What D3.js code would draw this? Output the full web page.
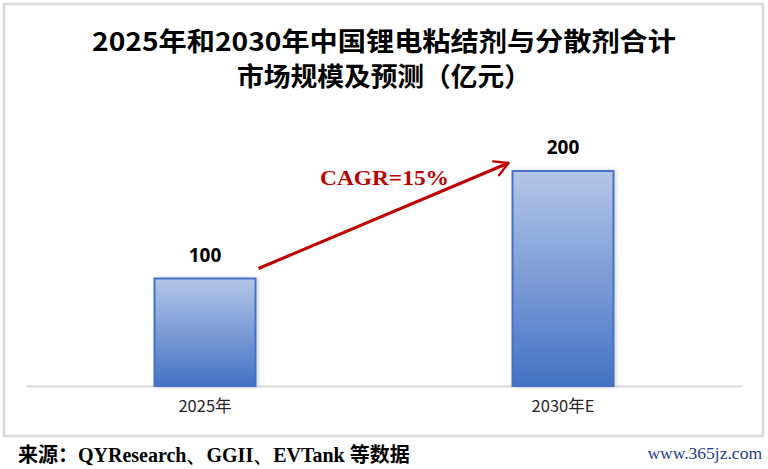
<!DOCTYPE html>
<html><head><meta charset="utf-8">
<script src="https://cdn.jsdelivr.net/npm/d3@7"></script>
<style>
html,body{margin:0;padding:0;background:#fff;}
svg{display:block;}
</style>
</head><body>
<svg id="c" width="768" height="469"></svg>
<script>
const categories = ["2025年", "2030年E"];
const values = [100, 200];
const titleLines = ["2025年和2030年中国锂电粘结剂与分散剂合计", "市场规模及预测（亿元）"];
const cagrLabel = "CAGR=15%";
const sourceParts = ["来源：", "QYResearch、GGII、EVTank ", "等数据"];
const watermark = "www.365jz.com";

const svg = d3.select("#c");
const W = 768, H = 469;
svg.append("rect").attr("width", W).attr("height", H).attr("fill", "#fff");

// frame
svg.append("rect").attr("x", 4).attr("y", 4).attr("width", 759).attr("height", 432)
  .attr("fill", "#fff").attr("stroke", "#d9d9d9").attr("stroke-width", 2.5);

const defs = svg.append("defs");
const grad = defs.append("linearGradient").attr("id", "g").attr("x1", 0).attr("y1", 0).attr("x2", 0).attr("y2", 1);
grad.append("stop").attr("offset", "0%").attr("stop-color", "#b4c6e8");
grad.append("stop").attr("offset", "100%").attr("stop-color", "#4472c4");
const f = defs.append("filter").attr("id", "sh").attr("x", "-20%").attr("y", "-20%").attr("width", "140%").attr("height", "140%");
f.append("feDropShadow").attr("dx", 2).attr("dy", 0).attr("stdDeviation", 2).attr("flood-color", "#8090b0").attr("flood-opacity", 0.35);
defs.append("marker").attr("id", "arr").attr("viewBox", "0 0 12 12").attr("refX", 10).attr("refY", 6)
  .attr("markerWidth", 6).attr("markerHeight", 6).attr("markerUnits", "strokeWidth").attr("orient", "auto")
  .append("path").attr("d", "M1,1 L10,6 L1,11").attr("fill", "none").attr("stroke", "#c00000").attr("stroke-width", 1.6)
  .attr("stroke-linecap", "round").attr("stroke-linejoin", "round");

const x = d3.scaleBand().domain(categories).range([26, 742]).paddingInner(0.718).paddingOuter(0.359);
const y = d3.scaleLinear().domain([0, 200]).range([386, 171]);

// title
const cjk = "'Noto Sans CJK SC', 'Noto Sans', sans-serif";
const tl = [{t: titleLines[0], y: 51, len: 584}, {t: titleLines[1], y: 86, len: 294}];
svg.selectAll(".title").data(tl).join("text").attr("class", "title")
  .attr("x", 384).attr("y", d => d.y).attr("text-anchor", "middle")
  .attr("font-family", cjk).attr("font-weight", "bold").attr("font-size", 26).attr("fill", "#000")
  .attr("textLength", d => d.len).attr("lengthAdjust", "spacingAndGlyphs")
  .text(d => d.t);

// axis baseline
const xAxis = d3.axisBottom(x).tickSize(0).tickPadding(14);
const ax = svg.append("g").attr("transform", `translate(0,${y(0)})`).call(xAxis);
ax.select(".domain").attr("stroke", "#d9d9d9").attr("stroke-width", 2);
ax.selectAll("text").attr("font-family", cjk).attr("font-size", 16.5).attr("fill", "#262626");

// bars
const data = categories.map((c, i) => ({c, v: values[i]}));
svg.selectAll(".bar").data(data).join("rect").attr("class", "bar")
  .attr("x", d => x(d.c)).attr("y", d => y(d.v))
  .attr("width", x.bandwidth()).attr("height", d => y(0) - y(d.v))
  .attr("fill", "url(#g)").attr("stroke", "#4472c4").attr("stroke-width", 2)
  .attr("filter", "url(#sh)");

// value labels
svg.selectAll(".vl").data(data).join("text").attr("class", "vl")
  .attr("x", d => x(d.c) + x.bandwidth() / 2).attr("y", d => y(d.v) - 17)
  .attr("text-anchor", "middle").attr("font-family", "'Open Sans', 'Noto Sans', sans-serif")
  .attr("font-weight", "bold").attr("font-size", 19).attr("fill", "#000")
  .text(d => d.v);

// CAGR arrow
const x0 = x(categories[0]) + x.bandwidth() + 3, y0 = y(values[0]) - 10;
const x1 = x(categories[1]) - 4, y1 = y(values[1]) - 8;
svg.append("line").attr("x1", x0).attr("y1", y0).attr("x2", x1).attr("y2", y1)
  .attr("stroke", "#c00000").attr("stroke-width", 3).attr("marker-end", "url(#arr)");
svg.append("text").attr("x", (x0 + x1) / 2 + 1).attr("y", (y0 + y1) / 2 - 31)
  .attr("text-anchor", "middle").attr("font-family", "'Liberation Serif', 'Times New Roman', serif")
  .attr("font-weight", "bold").attr("font-size", 21).attr("fill", "#c00000")
  .attr("textLength", 129).attr("lengthAdjust", "spacingAndGlyphs")
  .text(cagrLabel);

// source
const src = svg.append("text").attr("x", 18).attr("y", 462).attr("font-weight", "bold").attr("font-size", 20).attr("fill", "#000");
src.append("tspan").attr("font-family", cjk).text(sourceParts[0]);
src.append("tspan").attr("font-family", "'Liberation Serif', serif").text(sourceParts[1]);
src.append("tspan").attr("font-family", cjk).text(sourceParts[2]);

svg.append("text").attr("x", 762).attr("y", 459).attr("text-anchor", "end")
  .attr("font-family", "'Liberation Serif', serif").attr("font-size", 17.5).attr("fill", "#1f3c88")
  .text(watermark);
</script>
</body></html>
